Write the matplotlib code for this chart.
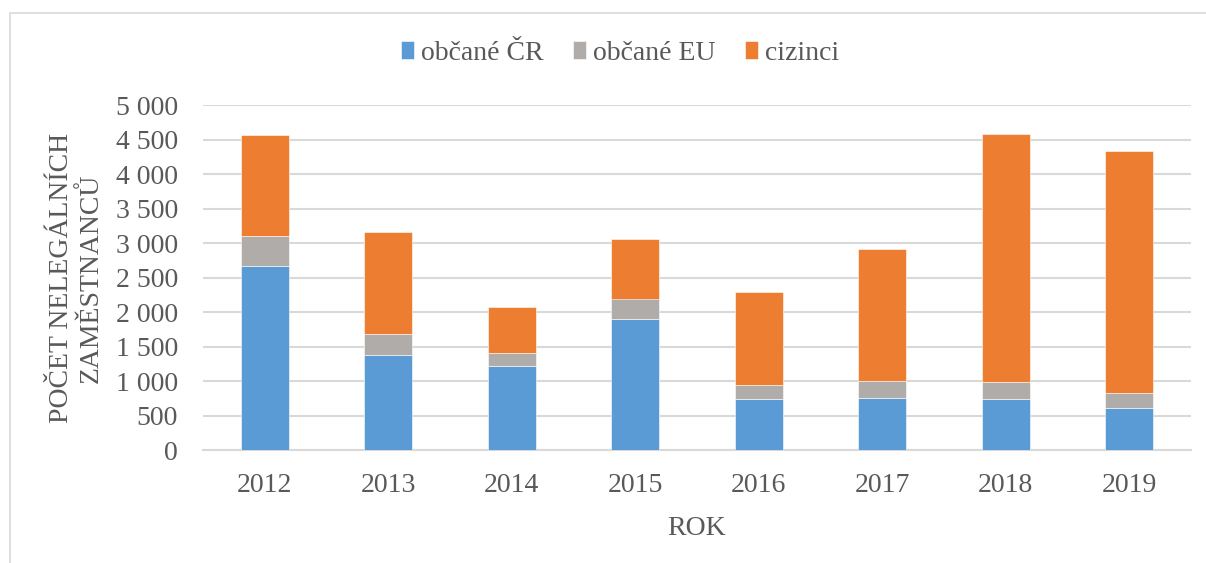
import matplotlib
matplotlib.use("Agg")
import matplotlib.pyplot as plt
from matplotlib.patches import Rectangle
from matplotlib.ticker import FuncFormatter
import numpy as np

years = ["2012", "2013", "2014", "2015", "2016", "2017", "2018", "2019"]
obcane_cr = [2670, 1385, 1225, 1905, 750, 765, 750, 615]
obcane_eu = [430, 295, 190, 295, 195, 235, 235, 215]
cizinci = [1470, 1485, 655, 860, 1345, 1915, 3595, 3510]
series_names = ["občané ČR", "občané EU", "cizinci"]
colors = ["#5B9BD5", "#AFACAA", "#ED7D31"]

plt.rcParams['font.family'] = ['Liberation Serif', 'DejaVu Serif']
text_color = "#595959"
fs = 20

fig = plt.figure(figsize=(12.06, 5.63), dpi=100)
# chart border
fig.patches.append(Rectangle((10/1206, -0.1), 1.2, 1 - 13/563 + 0.1, transform=fig.transFigure,
                             fill=False, edgecolor="#D9D9D9", linewidth=1.2))

ax = fig.add_axes([203/1206, 1 - 450.3/563, (1191 - 203)/1206, (450.3 - 105.3)/563])
x = np.arange(len(years))
w = 0.39
bottom = np.zeros(len(years))
for vals, name, c in zip([obcane_cr, obcane_eu, cizinci], series_names, colors):
    ax.bar(x, vals, w, bottom=bottom, color=c, label=name, edgecolor="white", linewidth=0.4, zorder=3)
    bottom += np.array(vals)

ax.set_xlim(-0.5, len(years) - 0.5)
ax.set_ylim(0, 5000)
ax.set_yticks(np.arange(0, 5001, 500))
ax.yaxis.set_major_formatter(FuncFormatter(lambda v, p: f"{int(v):,}".replace(",", " ")))
ax.set_xticks(x)
ax.set_xticklabels(years)
ax.grid(axis="y", color="#D9D9D9", linewidth=1.5, zorder=0)
ax.set_axisbelow(True)
for s in ["top", "right", "left"]:
    ax.spines[s].set_visible(False)
ax.spines["bottom"].set_color("#D9D9D9")
ax.spines["bottom"].set_linewidth(1.5)
ax.tick_params(axis="both", length=0, labelsize=fs, colors=text_color)
ax.tick_params(axis="y", pad=18)
ax.tick_params(axis="x", pad=16)

ax.set_xlabel("ROK", fontsize=fs, color=text_color, labelpad=13)
fig.text(76/1206, 1 - 278/563, "POČET NELEGÁLNÍCH\nZAMĚSTNANCŮ", rotation=90, ha="center", va="center",
         multialignment="center", fontsize=fs, color=text_color, linespacing=1.25)

leg = fig.legend(loc="center", bbox_to_anchor=(620/1206, 1 - 53/563), ncol=3, frameon=False,
                 fontsize=fs, handlelength=0.47, handleheight=0.6, handletextpad=0.25, columnspacing=1.05,
                 labelcolor=text_color)

fig.savefig("out.png", dpi=100)
